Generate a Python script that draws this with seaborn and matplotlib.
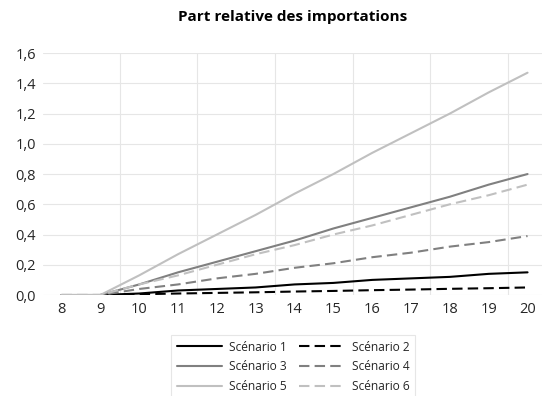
import matplotlib
matplotlib.use("Agg")
import matplotlib.pyplot as plt
import matplotlib.ticker as mticker
import seaborn as sns

# Data
years = [8, 9, 10, 11, 12, 13, 14, 15, 16, 17, 18, 19, 20]
scen1 = [0, 0, 0.01, 0.03, 0.04, 0.05, 0.07, 0.08, 0.10, 0.11, 0.12, 0.14, 0.15]
scen2 = [0, 0, 0.005, 0.01, 0.014, 0.018, 0.023, 0.027, 0.032, 0.036, 0.041, 0.045, 0.05]
scen3 = [0, 0, 0.07, 0.15, 0.22, 0.29, 0.36, 0.44, 0.51, 0.58, 0.65, 0.73, 0.80]
scen4 = [0, 0, 0.04, 0.07, 0.11, 0.14, 0.18, 0.21, 0.25, 0.28, 0.32, 0.35, 0.39]
scen5 = [0, 0, 0.13, 0.27, 0.40, 0.53, 0.67, 0.80, 0.94, 1.07, 1.20, 1.34, 1.47]
scen6 = [0, 0, 0.07, 0.13, 0.20, 0.27, 0.33, 0.40, 0.46, 0.53, 0.60, 0.66, 0.73]
labels = ["Scénario 1", "Scénario 2", "Scénario 3", "Scénario 4", "Scénario 5", "Scénario 6"]

sns.set_theme(style="whitegrid")
plt.rcParams['font.family'] = ['Open Sans', 'DejaVu Sans']

fig = plt.figure(figsize=(5.43, 3.96), dpi=100)
ax = fig.add_axes([0.079, 0.255, 0.919, 0.611])

series = [scen1, scen2, scen3, scen4, scen5, scen6]
colors = ['#000000', '#000000', '#808080', '#808080', '#c0c0c0', '#c0c0c0']
styles = ['-', (0, (5, 2.5)), '-', (0, (5, 2.5)), '-', (0, (5, 2.5))]

for vals, col, ls, lab in zip(series, colors, styles, labels):
    sns.lineplot(x=years, y=vals, color=col, linestyle=ls, linewidth=1.5,
                 label=lab, ax=ax, legend=False)

ax.set_xlim(7.52, 20.37)
ax.set_ylim(0, 1.6)
ax.set_xticks(years)
ax.set_yticks([0, 0.2, 0.4, 0.6, 0.8, 1.0, 1.2, 1.4, 1.6])
ax.yaxis.set_major_formatter(mticker.FuncFormatter(lambda v, p: f"{v:.1f}".replace('.', ',')))
ax.set_xticks([9.5, 11.5, 13.5, 15.5, 17.5, 19.5], minor=True)

# grid like the excel chart: horizontal at majors, vertical every two categories
ax.grid(False)
ax.yaxis.grid(True, which='major', color='#e6e6e6', linewidth=0.8)
ax.xaxis.grid(True, which='minor', color='#e6e6e6', linewidth=0.8)
ax.tick_params(axis='both', which='both', length=0, labelsize=10.5, colors='#262626')
ax.tick_params(axis='x', pad=5)
ax.tick_params(axis='y', pad=5)
for s in ax.spines.values():
    s.set_visible(False)
ax.set_xlabel('')
ax.set_ylabel('')

ax.set_title('Part relative des importations', fontsize=11, fontweight='bold', pad=23, color='#000000')

# legend filled row by row (1 2 / 3 4 / 5 6)
handles, labs = ax.get_legend_handles_labels()
order = [0, 2, 4, 1, 3, 5]
leg = fig.legend([handles[i] for i in order], [labs[i] for i in order], ncol=2,
                 loc='upper center', bbox_to_anchor=(0.54, 0.17),
                 fontsize=8.6, frameon=True, fancybox=False, edgecolor='#e0e0e0',
                 handlelength=3.8, columnspacing=1.0, handletextpad=0.6, labelspacing=0.55,
                 borderpad=0.5)
leg.get_frame().set_linewidth(0.8)

plt.savefig('out.png', dpi=100)
